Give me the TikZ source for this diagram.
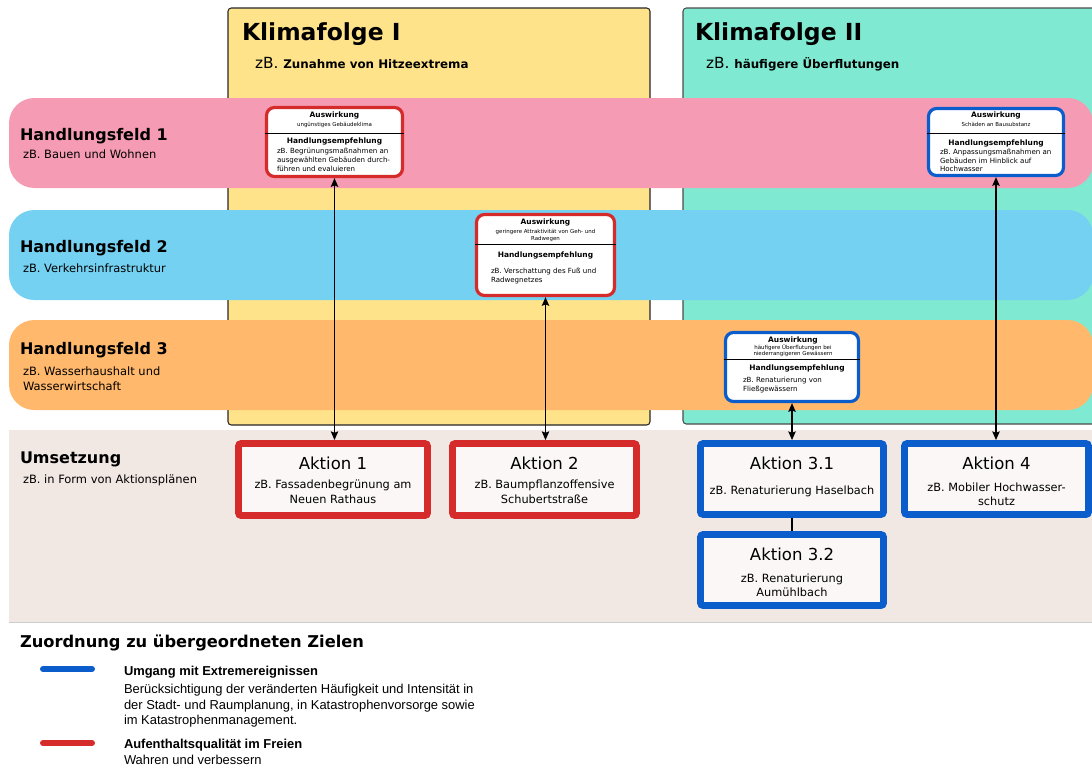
\documentclass[tikz,border=0pt]{standalone}
\usepackage{fontspec}
\setmainfont{DejaVu Sans}
\newfontfamily\arialf{Liberation Sans}
\usetikzlibrary{arrows.meta}
\newcommand\myfs[1]{\fontsize{#1}{#1}\selectfont}
\definecolor{yelc}{HTML}{FFE38B}
\definecolor{tealc}{HTML}{80E9D1}
\definecolor{pinkc}{HTML}{F59CB4}
\definecolor{bluebandc}{HTML}{74D1F1}
\definecolor{orangec}{HTML}{FFB86C}
\definecolor{umsc}{HTML}{F1E7E3}
\definecolor{redc}{HTML}{D52B2B}
\definecolor{bluec}{HTML}{0B5DCB}
\definecolor{aktfill}{HTML}{FBF7F6}
\begin{document}
\begin{tikzpicture}[x=0.75pt,y=-0.75pt,
  t/.style={inner sep=0pt, outer sep=0pt, anchor=base west},
  tc/.style={inner sep=0pt, outer sep=0pt, anchor=base},
  band/.style={rounded corners=19pt},
  sbox/.style={rectangle, rounded corners=6pt, line width=2.4pt, fill=white, inner sep=0pt},
  akt/.style={rectangle, rounded corners=2pt, line width=5.1pt, fill=aktfill, inner sep=0pt},
  conn/.style={line width=1.2pt, {Stealth[length=6.5pt,width=5.5pt,inset=1pt]}-{Stealth[length=6.5pt,width=5.5pt,inset=1pt]}},
  hf/.style={t, font=\bfseries\myfs{12}},
  hfsub/.style={t, font=\myfs{8.6}},
  akttitle/.style={tc, font=\myfs{12.4}},
  aktsub/.style={tc, font=\myfs{8.5}},
  sbhead/.style={tc, font=\bfseries\myfs{5.6}},
  sbsub/.style={tc, font=\myfs{4.1}},
  sbbody/.style={t, font=\myfs{5.3}},
  legline/.style={line width=4.5pt, line cap=round},
  legtxt/.style={t, font=\arialf\myfs{9.7}},
  legbold/.style={t, font=\arialf\bfseries\myfs{9.7}}
]
\useasboundingbox (0,0) rectangle (1092,769);
% columns
\draw[draw=black!85, fill=yelc, rounded corners=2.5pt, line width=0.8pt] (228,8) rectangle (650,425);
\draw[draw=black!70, fill=tealc, rounded corners=2.5pt, line width=0.8pt] (683,8) rectangle (1115,424);
\node[t, font=\bfseries\myfs{17.6}] (k1) at (242,40) {Klimafolge I};
\node[t] (k1s) at (255,68) {\myfs{11.5}zB.~{\bfseries\myfs{8.9}Zunahme von Hitzeextrema}};
\node[t, font=\bfseries\myfs{17.6}] (k2) at (695,40) {Klimafolge II};
\node[t] (k2s) at (706,68) {\myfs{11.5}zB.~{\bfseries\myfs{8.9}häufigere Überflutungen}};
% bands
\fill[pinkc, band] (9,98) rectangle (1093,188);
\fill[bluebandc, band] (9,210) rectangle (1093,300);
\fill[orangec, band] (9,320) rectangle (1093,410);
\fill[umsc] (9,430) rectangle (1092,622);
\draw[black!20, line width=0.6pt] (9,622) -- (1092,622);
\node[hf] (h1) at (20,140) {Handlungsfeld 1};
\node[hfsub] (h1s) at (23,158) {zB. Bauen und Wohnen};
\node[hf] (h2) at (20,252) {Handlungsfeld 2};
\node[hfsub] (h2s) at (23,272) {zB. Verkehrsinfrastruktur};
\node[hf] (h3) at (20,354) {Handlungsfeld 3};
\node[hfsub] (h3s) at (23,375) {zB. Wasserhaushalt und};
\node[hfsub] (h3t) at (23,390) {Wasserwirtschaft};
\node[hf] (um) at (20,463) {Umsetzung};
\node[hfsub] (ums) at (23,483) {zB. in Form von Aktionsplänen};
% small boxes
\node[sbox, draw=redc, minimum width=136*0.75pt, minimum height=69*0.75pt] (b1) at (334.5,142) {};
\draw[line width=0.7pt] (b1.west |- 0,133) -- (b1.east |- 0,133);
\node[sbhead] at (334.5,117) {Auswirkung};
\node[sbsub] at (334.5,126) {ungünstiges Gebäudeklima};
\node[sbhead] at (334.5,143) {Handlungsempfehlung};
\node[sbbody] at (277,153) {zB. Begrünungsmaßnahmen an};
\node[sbbody] at (277,162) {ausgewählten Gebäuden durch-};
\node[sbbody] at (277,171) {führen und evaluieren};

\node[sbox, draw=bluec, minimum width=135*0.75pt, minimum height=67*0.75pt] (b2) at (996,142) {};
\draw[line width=0.7pt] (b2.west |- 0,133) -- (b2.east |- 0,133);
\node[sbhead] at (996,117) {Auswirkung};
\node[sbsub] at (996,126) {Schäden an Bausubstanz};
\node[sbhead] at (996,145) {Handlungsempfehlung};
\node[sbbody] at (940,154) {zB. Anpassungsmaßnahmen an};
\node[sbbody] at (940,163) {Gebäuden im Hinblick auf};
\node[sbbody] at (940,171) {Hochwasser};

\node[sbox, draw=redc, minimum width=138*0.75pt, minimum height=81*0.75pt] (b3) at (545.5,255) {};
\draw[line width=0.7pt] (b3.west |- 0,244) -- (b3.east |- 0,244);
\node[sbhead] at (545.5,224) {Auswirkung};
\node[sbsub] at (545.5,233) {geringere Attraktivität von Geh- und};
\node[sbsub] at (545.5,240) {Radwegen};
\node[sbhead] at (545.5,257) {Handlungsempfehlung};
\node[sbbody] at (491,273) {zB. Verschattung des Fuß und};
\node[sbbody] at (491,282) {Radwegnetzes};

\node[sbox, draw=bluec, minimum width=133*0.75pt, minimum height=69*0.75pt] (b4) at (792,367) {};
\draw[line width=0.7pt] (b4.west |- 0,359) -- (b4.east |- 0,359);
\node[sbhead] at (793,342) {Auswirkung};
\node[sbsub] at (793,349) {häufigere Überflutungen bei};
\node[sbsub] at (793,355) {niederrangigeren Gewässern};
\node[sbhead] at (797,370) {Handlungsempfehlung};
\node[sbbody] at (743,382) {zB. Renaturierung von};
\node[sbbody] at (743,391) {Fließgewässern};
% Aktion boxes
\node[akt, draw=redc, minimum width=189*0.75pt, minimum height=72*0.75pt] (a1) at (333,479.5) {};
\node[akttitle] at (333,469) {Aktion 1};
\node[aktsub] at (333,488) {zB. Fassadenbegrünung am};
\node[aktsub] at (333,503) {Neuen Rathaus};
\node[akt, draw=redc, minimum width=184*0.75pt, minimum height=72*0.75pt] (a2) at (544.5,479.5) {};
\node[akttitle] at (544.5,469) {Aktion 2};
\node[aktsub] at (544.5,488) {zB. Baumpflanzoffensive};
\node[aktsub] at (544.5,503) {Schubertstraße};
\node[akt, draw=bluec, minimum width=183*0.75pt, minimum height=71*0.75pt] (a31) at (792,479) {};
\node[akttitle] at (792,469) {Aktion 3.1};
\node[aktsub] at (792,494) {zB. Renaturierung Haselbach};
\node[akt, draw=bluec, minimum width=184*0.75pt, minimum height=71*0.75pt] (a4) at (996.5,479) {};
\node[akttitle] at (996.5,469) {Aktion 4};
\node[aktsub] at (996.5,491) {zB. Mobiler Hochwasser-};
\node[aktsub] at (996.5,505) {schutz};
\node[akt, draw=bluec, minimum width=183*0.75pt, minimum height=71*0.75pt] (a32) at (792,570) {};
\node[akttitle] at (792,560) {Aktion 3.2};
\node[aktsub] at (792,582) {zB. Renaturierung};
\node[aktsub] at (792,596) {Aumühlbach};
% connectors
\draw[conn] (b1.south) -- (b1.south |- a1.north);
\draw[conn] (b3.south) -- (b3.south |- a2.north);
\draw[conn] (b4.south) -- (b4.south |- a31.north);
\draw[conn] (b2.south) -- (b2.south |- a4.north);
\draw[line width=1.1pt] (a31.south) -- (a32.north);
% legend
\node[t, font=\bfseries\myfs{12.2}] (lt) at (20,647) {Zuordnung zu übergeordneten Zielen};
\draw[legline, bluec] (43,669) -- (92,669);
\draw[legline, redc] (43,743) -- (92,743);
\node[legbold] (l1) at (124,675) {Umgang mit Extremereignissen};
\node[legtxt] at (124,693) {Berücksichtigung der veränderten Häufigkeit und Intensität in};
\node[legtxt] at (124,709) {der Stadt- und Raumplanung, in Katastrophenvorsorge sowie};
\node[legtxt] at (124,724) {im Katastrophenmanagement.};
\node[legbold] (l2) at (124,748) {Aufenthaltsqualität im Freien};
\node[legtxt] at (124,764) {Wahren und verbessern};
\end{tikzpicture}
\end{document}
